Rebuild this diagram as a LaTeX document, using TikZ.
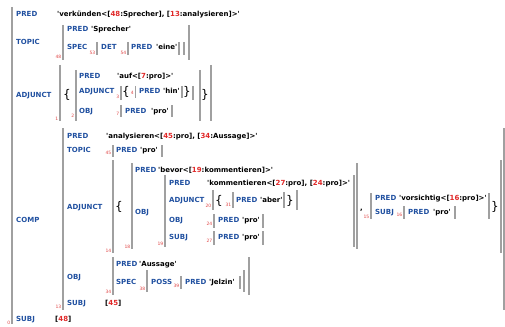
\documentclass[tikz,border=0pt]{standalone}
\usepackage{fontspec}
\newfontfamily\dv[Ligatures=TeXOff]{DejaVu Sans}
\definecolor{attrblue}{HTML}{2050A0}
\definecolor{numred}{HTML}{E02828}
\definecolor{idxred}{HTML}{E04848}
\definecolor{bargray}{HTML}{A0A0A0}
\newcommand\rn[1]{\textcolor{numred}{#1}}
\newcommand\q{\symbol{39}}
\tikzset{
 attr/.style={anchor=west, inner sep=0pt, text height=5.1pt, text depth=0pt, font=\dv\bfseries\fontsize{7}{8}\selectfont, text=attrblue},
 val/.style={attr, text=black},
 idx/.style={anchor=east, inner sep=0pt, text height=3.3pt, text depth=0pt, font=\dv\fontsize{4.5}{5}\selectfont, text=idxred},
 brc/.style={anchor=center, inner sep=0pt, font=\dv\fontsize{12}{14}\selectfont},
 bar/.style={draw=bargray, line width=1.4pt},
}
\begin{document}
\begin{tikzpicture}[x=1pt,y=-1pt]
\useasboundingbox (0,0) rectangle (505,326);
% outer AVM 0
\draw[bar] (12,7) -- (12,324);
\node[idx] (i0) at (10.5,323) {0};
\node[attr] (a0pred) at (16,14) {PRED};
\node[val] (v0pred) at (57,14) {\q verkünden<[\rn{48}:Sprecher], [\rn{13}:analysieren]>\q};
\node[attr] (a0topic) at (16,42) {TOPIC};
% AVM 48
\draw[bar] (63,25) -- (63,60);
\node[idx] (i48) at (61.5,57) {48};
\node[attr] (a48pred) at (67,29) {PRED};
\node[val] (v48pred) at (91,29) {\q Sprecher\q};
\node[attr] (a48spec) at (67,47) {SPEC};
\draw[bar] (97,42) -- (97,55);
\node[idx] (i53) at (95.5,53) {53};
\node[attr] (a53det) at (101,47) {DET};
\draw[bar] (128,42) -- (128,55);
\node[idx] (i54) at (126.5,53) {54};
\node[attr] (a54pred) at (131,47) {PRED};
\node[val] (v54pred) at (156,47) {\q eine\q};
\draw[bar] (179,42) -- (179,55);
\draw[bar] (184,42) -- (184,55);
\draw[bar] (189,25) -- (189,60);
% ADJUNCT set 1
\node[attr] (a0adj) at (16,95) {ADJUNCT};
\draw[bar] (60,65) -- (60,121);
\node[idx] (i1) at (58.5,119) {1};
\node[brc] (b1l) at (67,95) {\{};
\draw[bar] (76,70) -- (76,121);
\node[idx] (i2) at (74.5,116) {2};
\node[attr] (a2pred) at (79,76) {PRED};
\node[val] (v2pred) at (117,76) {\q auf<[\rn{7}:pro]>\q};
\node[attr] (a2adj) at (79,91) {ADJUNCT};
\draw[bar] (121,86) -- (121,100);
\node[idx] (i3) at (119.5,97) {3};
\node[brc] (b3l) at (126,92) {\{};
\node[idx] (i4) at (134,93) {4};
\draw[bar] (135.5,86) -- (135.5,98);
\node[attr] (a4pred) at (139,91) {PRED};
\node[val] (v4pred) at (163,91) {\q hin\q};
\draw[bar] (182,86) -- (182,98);
\node[brc] (b3r) at (187,92) {\}};
\draw[bar] (193,86) -- (193,100);
\node[attr] (a2obj) at (79,111) {OBJ};
\draw[bar] (121,105) -- (121,117);
\node[idx] (i7) at (119.5,114) {7};
\node[attr] (a7pred) at (125,111) {PRED};
\node[val] (v7pred) at (151,111) {\q pro\q};
\draw[bar] (172,105) -- (172,117);
\draw[bar] (200,70) -- (200,121);
\node[brc] (b1r) at (205,95) {\}};
\draw[bar] (211,65) -- (211,121);
% COMP AVM 13
\node[attr] (a0comp) at (16,220) {COMP};
\draw[bar] (63,128) -- (63,310);
\node[idx] (i13) at (61.5,307) {13};
\node[attr] (a13pred) at (67,136) {PRED};
\node[val] (v13pred) at (106,136) {\q analysieren<[\rn{45}:pro], [\rn{34}:Aussage]>\q};
\node[attr] (a13topic) at (67,150) {TOPIC};
\draw[bar] (113,145) -- (113,157);
\node[idx] (i45) at (111.5,153) {45};
\node[attr] (a45pred) at (116,150) {PRED};
\node[val] (v45pred) at (140,150) {\q pro\q};
\draw[bar] (162,145) -- (162,157);
% ADJUNCT set 14
\node[attr] (a13adj) at (67,207) {ADJUNCT};
\draw[bar] (113,160) -- (113,253);
\node[idx] (i14) at (111.5,251) {14};
\node[brc] (b14l) at (119,207) {\{};
\draw[bar] (132,163) -- (132,249);
\node[idx] (i18) at (130.5,247) {18};
\node[attr] (a18pred) at (135,170) {PRED};
\node[val] (v18pred) at (158,170) {\q bevor<[\rn{19}:kommentieren]>\q};
\node[attr] (a18obj) at (135,212) {OBJ};
\draw[bar] (165,175) -- (165,247);
\node[idx] (i19) at (163.5,244) {19};
\node[attr] (a19pred) at (169,183) {PRED};
\node[val] (v19pred) at (207,183) {\q kommentieren<[\rn{27}:pro], [\rn{24}:pro]>\q};
\node[attr] (a19adj) at (169,200) {ADJUNCT};
\draw[bar] (213,190) -- (213,210);
\node[idx] (i20) at (211.5,206) {20};
\node[brc] (b20l) at (219,201) {\{};
\node[idx] (i31) at (231.5,205) {31};
\draw[bar] (233,192) -- (233,208);
\node[attr] (a31pred) at (236,200) {PRED};
\node[val] (v31pred) at (260,200) {\q aber\q};
\draw[bar] (284,192) -- (284,208);
\node[brc] (b20r) at (290,201) {\}};
\draw[bar] (297,190) -- (297,210);
\node[attr] (a19obj) at (169,220) {OBJ};
\draw[bar] (214,214) -- (214,228);
\node[idx] (i24) at (212.5,224) {24};
\node[attr] (a24pred) at (218,220) {PRED};
\node[val] (v24pred) at (242,220) {\q pro\q};
\draw[bar] (263,214) -- (263,228);
\node[attr] (a19subj) at (169,237) {SUBJ};
\draw[bar] (214,231) -- (214,245);
\node[idx] (i27) at (212.5,241) {27};
\node[attr] (a27pred) at (218,237) {PRED};
\node[val] (v27pred) at (242,237) {\q pro\q};
\draw[bar] (263,231) -- (263,245);
\draw[bar] (354,175) -- (354,247);
\draw[bar] (357,163) -- (357,249);
\node[val] (comma) at (360,208) {,};
\draw[bar] (371,193) -- (371,219);
\node[idx] (i15) at (369.5,217) {15};
\node[attr] (a15pred) at (375,198) {PRED};
\node[val] (v15pred) at (399,198) {\q vorsichtig<[\rn{16}:pro]>\q};
\node[attr] (a15subj) at (375,212) {SUBJ};
\draw[bar] (404,206) -- (404,219);
\node[idx] (i16) at (402.5,215) {16};
\node[attr] (a16pred) at (408,212) {PRED};
\node[val] (v16pred) at (433,212) {\q pro\q};
\draw[bar] (455,206) -- (455,219);
\draw[bar] (489,193) -- (489,219);
\node[brc] (b14r) at (495,207) {\}};
\draw[bar] (501,160) -- (501,253);
% OBJ AVM 34
\node[attr] (a13obj) at (67,277) {OBJ};
\draw[bar] (113,257) -- (113,295);
\node[idx] (i34) at (111.5,292) {34};
\node[attr] (a34pred) at (116,264) {PRED};
\node[val] (v34pred) at (139,264) {\q Aussage\q};
\node[attr] (a34spec) at (116,282) {SPEC};
\draw[bar] (147,270) -- (147,292);
\node[idx] (i38) at (145.5,289) {38};
\node[attr] (a38poss) at (151,282) {POSS};
\draw[bar] (181,276) -- (181,289);
\node[idx] (i39) at (179.5,286) {39};
\node[attr] (a39pred) at (185,282) {PRED};
\node[val] (v39pred) at (209,282) {\q Jelzin\q};
\draw[bar] (240,276) -- (240,289);
\draw[bar] (244,270) -- (244,292);
\draw[bar] (249,257) -- (249,295);
\node[attr] (a13subj) at (67,303) {SUBJ};
\node[val] (v13subj) at (105,303) {[\rn{45}]};
\draw[bar] (504,128) -- (504,310);
% outer SUBJ
\node[attr] (a0subj) at (16,319) {SUBJ};
\node[val] (v0subj) at (55,319) {[\rn{48}]};
\end{tikzpicture}
\end{document}
